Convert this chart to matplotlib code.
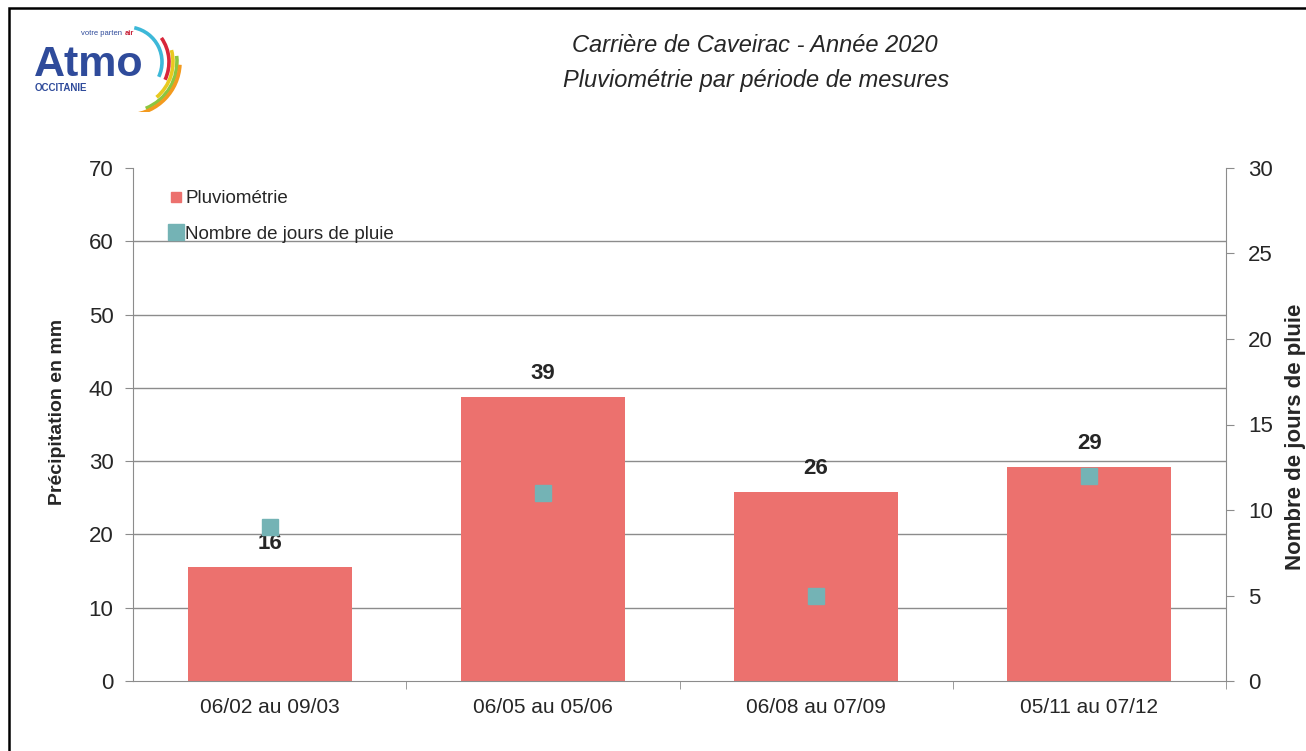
"""Pluviométrie par période de mesures - Carrière de Caveirac 2020."""

import matplotlib
matplotlib.use("Agg")
import matplotlib.pyplot as plt
from matplotlib.lines import Line2D
from matplotlib.patches import Arc, Rectangle
from matplotlib.ticker import FixedLocator

periods = ["06/02 au 09/03", "06/05 au 05/06", "06/08 au 07/09", "05/11 au 07/12"]
rain_mm = [15.6, 38.8, 25.8, 29.2]
rain_labels = ["16", "39", "26", "29"]
rain_days = [9, 11, 5, 12]

BAR_COLOR = "#EC716E"
DAY_COLOR = "#74B3B5"
GRID_COLOR = "#8C8C8C"
TEXT_COLOR = "#262626"

plt.rcParams["font.family"] = ["Liberation Sans", "DejaVu Sans"]

W, H = 1306, 751
fig = plt.figure(figsize=(W / 100, H / 100), dpi=100)
fig.patch.set_facecolor("white")

# outer frame (only top and left edges visible in the original)
fig.add_artist(Rectangle((9 / W, -0.05), 1.1, 1 - 8 / H + 0.05, transform=fig.transFigure,
                         fill=False, edgecolor="black", linewidth=1.8))

ax = fig.add_axes([133 / W, 1 - 681 / H, (1226 - 133) / W, (681 - 168) / H])
x = list(range(len(periods)))
ax.bar(x, rain_mm, width=0.6, color=BAR_COLOR, zorder=2)

for xi, val, lab in zip(x, rain_mm, rain_labels):
    ax.annotate(lab, (xi, val), xytext=(0, 17), textcoords="offset points",
                ha="center", va="center", fontsize=16, fontweight="bold", color=TEXT_COLOR)

ax.set_xlim(-0.5, len(periods) - 0.5)
ax.set_ylim(0, 70)
ax.set_yticks(range(0, 71, 10))
ax.set_xticks(x)
ax.set_xticklabels(periods)
ax.xaxis.set_minor_locator(FixedLocator([i + 0.5 for i in range(len(periods))]))
ax.tick_params(axis="x", which="major", length=0, pad=12, labelsize=15, labelcolor=TEXT_COLOR)
ax.tick_params(axis="x", which="minor", length=6, color=GRID_COLOR, direction="out")
ax.tick_params(axis="y", length=6, color=GRID_COLOR, labelsize=16, labelcolor=TEXT_COLOR, pad=8)
ax.yaxis.grid(True, color=GRID_COLOR, linewidth=1, zorder=0)
ax.set_axisbelow(True)
ax.yaxis.get_gridlines()[-1].set_visible(False)
ax.yaxis.get_gridlines()[0].set_visible(False)
for side in ("top", "right"):
    ax.spines[side].set_visible(False)
for side in ("left", "bottom"):
    ax.spines[side].set_color(GRID_COLOR)

ax2 = ax.twinx()
ax2.plot(x, rain_days, linestyle="none", marker="s", markersize=12,
         color=DAY_COLOR, zorder=3)
ax2.set_ylim(0, 30)
ax2.set_yticks(range(0, 31, 5))
ax2.tick_params(axis="y", length=6, color=GRID_COLOR, labelsize=16, labelcolor=TEXT_COLOR, pad=10)
for side in ("top", "left", "bottom"):
    ax2.spines[side].set_visible(False)
ax2.spines["right"].set_color(GRID_COLOR)

handles = [
    Line2D([], [], linestyle="none", marker="s", markersize=7, color=BAR_COLOR),
    Line2D([], [], linestyle="none", marker="s", markersize=12, color=DAY_COLOR),
]
ax2.legend(handles, ["Pluviométrie", "Nombre de jours de pluie"], loc="upper left",
           bbox_to_anchor=(0.015, 0.99), frameon=False, fontsize=13.5,
           handletextpad=0.0, labelspacing=1.0, handlelength=1.0, labelcolor=TEXT_COLOR)

fig.text(58 / W, 1 - 412 / H, "Précipitation en mm", rotation=90, ha="center", va="center",
         fontsize=14, fontweight="bold", color=TEXT_COLOR)
fig.text(1296 / W, 1 - 437 / H, "Nombre de jours de pluie", rotation=90, ha="center", va="center",
         fontsize=16, fontweight="bold", color=TEXT_COLOR)

fig.text(755 / W, 1 - 46 / H, "Carrière de Caveirac - Année 2020", ha="center", va="center",
         fontsize=17, style="italic", color=TEXT_COLOR)
fig.text(756 / W, 1 - 80 / H, "Pluviométrie par période de mesures", ha="center", va="center",
         fontsize=17, style="italic", color=TEXT_COLOR)

# logo, drawn in pixel units (y up), origin at image (25, 112)
lg = fig.add_axes([25 / W, 1 - 112 / H, 170 / W, 88 / H])
lg.set_xlim(0, 170)
lg.set_ylim(0, 88)
lg.axis("off")
blue = "#2F4B9B"
lg.text(9, 36, "Atmo", fontsize=31, fontweight="bold", color=blue, ha="left", va="baseline")
lg.text(56, 77, "votre parten", fontsize=5.5, color=blue, ha="left", va="baseline")
lg.text(100, 77, "air", fontsize=5.5, fontweight="bold", color="#C8243A", ha="left", va="baseline")
lg.text(10, 21, "OCCITANIE", fontsize=7, fontweight="bold", color=blue, ha="left", va="baseline")
arcs = [("#3DB8D8", 35, -25, 78), ("#D8263A", 42, -25, 35),
        ("#E9C91F", 46, -50, 15), ("#8CC63F", 50, -68, 7),
        ("#F39A1E", 53, -85, -3)]
for col, r, t1, t2 in arcs:
    lg.add_patch(Arc((102, 50), 2 * r, 2 * r, theta1=t1, theta2=t2, color=col, linewidth=2.6))

fig.savefig("out.png", dpi=100)
